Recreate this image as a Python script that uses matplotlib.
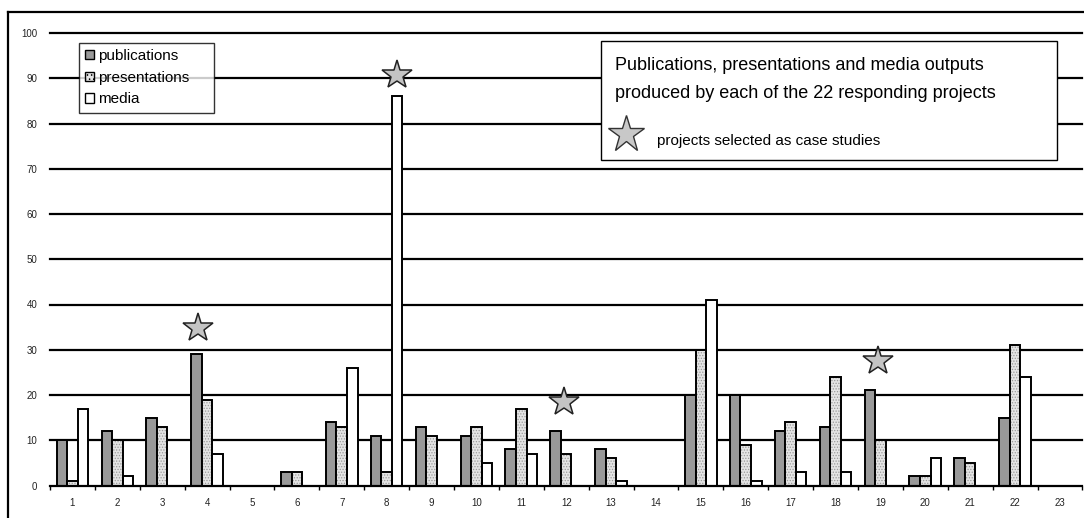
import matplotlib
matplotlib.use("Agg")
import matplotlib.pyplot as plt
import numpy as np
from matplotlib.patches import Rectangle, Patch
from matplotlib.lines import Line2D

plt.rcParams['font.family'] = ['Liberation Sans', 'DejaVu Sans']
plt.rcParams['hatch.linewidth'] = 0.6

projects = list(range(1, 24))
publications = [10, 12, 15, 29, 0, 3, 14, 11, 13, 11, 8, 12, 8, 0, 20, 20, 12, 13, 21, 2, 6, 15, 0]
presentations = [1, 10, 13, 19, 0, 3, 13, 3, 11, 13, 17, 7, 6, 0, 30, 9, 14, 24, 10, 2, 5, 31, 0]
media = [17, 2, 0, 7, 0, 0, 26, 86, 0, 5, 7, 0, 1, 0, 41, 1, 3, 3, 0, 6, 0, 24, 0]
star_projects = [3.8, 8.22, 11.95, 18.95]
star_levels = [34.8, 90.7, 18.5, 27.5]
yticks = [0, 10, 20, 30, 40, 50, 60, 70, 80, 90, 100]

W, H = 1084, 518
fig = plt.figure(figsize=(W / 100, H / 100), dpi=100)
fig.patch.set_facecolor('white')

# outer border (left and top visible)
fig.add_artist(Line2D([8 / W, 8 / W], [0, 1 - 12 / H], color='black', lw=1.6,
                      transform=fig.transFigure))
fig.add_artist(Line2D([8 / W, 1], [1 - 12 / H, 1 - 12 / H], color='black', lw=1.6,
                      transform=fig.transFigure))

ax_l, ax_r = 50 / W, 1082.4 / W
ax_b, ax_t = (H - 485.5) / H, (H - 33) / H
ax = fig.add_axes([ax_l, ax_b, ax_r - ax_l, ax_t - ax_b])
ax.set_xlim(0.5, 23.5)
ax.set_ylim(0, 100)
for s in ['top', 'right', 'left']:
    ax.spines[s].set_visible(False)
ax.spines['bottom'].set_linewidth(1.6)
ax.spines['bottom'].set_zorder(6)

for y in yticks[1:]:
    ax.axhline(y, color='black', lw=1.6, zorder=1, clip_on=False)

x = np.array(projects, dtype=float)
w = 0.235
pub_c = '#999999'
pres_c = '#e4e4e4'
# publications
ax.bar(x - w, publications, w, color=pub_c, edgecolor='black', linewidth=1.4, zorder=3)
# presentations: hatched fill then black outline
ax.bar(x, presentations, w, color=pres_c, edgecolor='#9a9a9a', hatch='......', linewidth=0, zorder=3)
ax.bar(x, presentations, w, color='none', edgecolor='black', linewidth=1.4, zorder=4)
# media
ax.bar(x + w, media, w, color='white', edgecolor='black', linewidth=1.4, zorder=3)

# stars
ax.plot(star_projects, star_levels, linestyle='none', marker='*', markersize=22,
        markerfacecolor='#c4c4c4', markeredgecolor='#222222', markeredgewidth=1.1, zorder=5)

ax.set_yticks(yticks)
ax.set_yticklabels([str(v) for v in yticks], fontsize=7, color='#222222')
ax.tick_params(axis='y', length=0, pad=9)
ax.set_xticks(x)
ax.set_xticklabels([str(p) for p in projects], fontsize=7, color='#222222')
ax.set_xticks(np.arange(0.5, 23.6, 1), minor=True)
ax.tick_params(axis='x', which='major', length=0, pad=9)
ax.tick_params(axis='x', which='minor', length=3, width=1, direction='out', color='black')

# legend
handles = [Patch(facecolor=pub_c, edgecolor='black', linewidth=1.0),
           Patch(facecolor=pres_c, edgecolor='black', linewidth=1.0, hatch='....'),
           Patch(facecolor='white', edgecolor='black', linewidth=1.0)]
leg = fig.legend(handles, ['publications', 'presentations', 'media'],
                 loc='upper left', bbox_to_anchor=(79 / W, 1 - 115 / H, 135 / W, 72 / H),
                 mode='expand',
                 fontsize=11, frameon=True, fancybox=False, handlelength=0.55,
                 handleheight=0.55, handletextpad=0.3, labelspacing=0.5,
                 borderpad=0.4, borderaxespad=0)
leg.get_frame().set_edgecolor('black')
leg.get_frame().set_linewidth(1.0)
leg.set_zorder(10)

# info box
bx0, by0, bx1, by1 = 601, 41, 1057, 160
fig.add_artist(Rectangle((bx0 / W, 1 - by1 / H), (bx1 - bx0) / W, (by1 - by0) / H,
                         transform=fig.transFigure, facecolor='white',
                         edgecolor='black', linewidth=1.0, zorder=9))
fig.text(615 / W, 1 - 65 / H, 'Publications, presentations and media outputs',
         fontsize=13, va='center', ha='left', zorder=10)
fig.text(615 / W, 1 - 93 / H, 'produced by each of the 22 responding projects',
         fontsize=13, va='center', ha='left', zorder=10)
fig.add_artist(Line2D([626 / W], [1 - 134 / H], marker='*', markersize=28,
                      markerfacecolor='#c8c8c8', markeredgecolor='#333333',
                      markeredgewidth=1.0, linestyle='none',
                      transform=fig.transFigure, zorder=10))
fig.text(657 / W, 1 - 141 / H, 'projects selected as case studies',
         fontsize=11, va='center', ha='left', zorder=10)

fig.savefig('out.png', dpi=100)
